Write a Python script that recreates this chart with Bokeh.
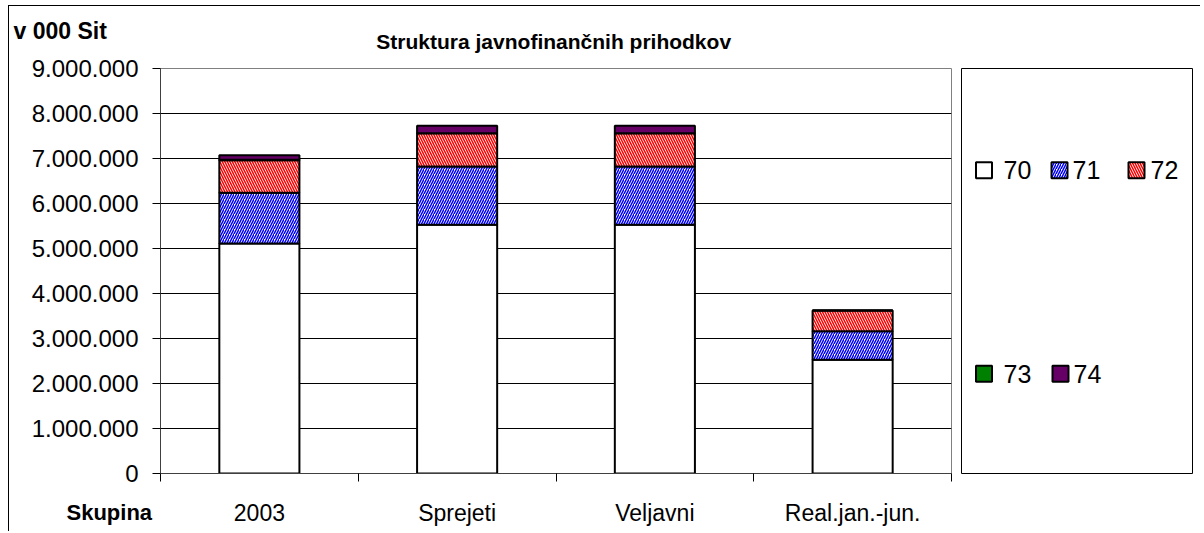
from bokeh.plotting import figure
from bokeh.models import Range1d, FixedTicker
from bokeh.layouts import row, column
from bokeh.embed import file_html
from bokeh.resources import INLINE
from bokeh.core.properties import value

# ---------------- data ----------------
categories = ["2003", "Sprejeti", "Veljavni", "Real.jan.-jun."]
series_names = ["70", "71", "72", "73", "74"]
s70 = [5110000, 5530000, 5530000, 2530000]
s71 = [1130000, 1290000, 1290000, 630000]
s72 = [720000, 740000, 740000, 460000]
s73 = [10000, 0, 0, 0]
s74 = [100000, 170000, 170000, 0]
y_ticks = [0, 1000000, 2000000, 3000000, 4000000, 5000000, 6000000, 7000000, 8000000, 9000000]
Y_MAX = 9000000
title_text = "Struktura javnofinančnih prihodkov"
unit_text = "v 000 Sit"
group_text = "Skupina"

FONT = "Liberation Sans"

def fmt(v):
    return f"{v:,}".replace(",", ".")

series = [s70, s71, s72, s73, s74]
fills = ["white", "white", "white", "#008000", "#660066"]
hatches = [" ", "/", "\\", " ", " "]
hatch_cols = [None, "#0000FF", "#FF0000", None, None]

xs = [i + 0.5 for i in range(len(categories))]
N = len(categories)
FRAME_W = 791      # main frame width in px
LEFT_PAD = 151     # px between canvas left and main frame left

# ---------------- top strip (title + unit) ----------------
pt = figure(width=1191, height=48, x_range=Range1d(0, 1191), y_range=Range1d(48, 0),
            output_backend="svg", toolbar_location=None,
            x_axis_location=None, y_axis_location=None,
            min_border_left=0, min_border_right=0, min_border_top=0, min_border_bottom=0)
pt.grid.visible = False
pt.outline_line_color = None
pt.background_fill_color = "white"
pt.border_fill_color = "white"
pt.text(x=[546.5], y=[35], text=[title_text], text_font=value(FONT), text_font_size="21px",
        text_font_style="bold", text_align="center", text_baseline="middle", text_color="black")
pt.text(x=[4], y=[24], text=[unit_text], text_font=value(FONT), text_font_size="23px",
        text_font_style="bold", text_align="left", text_baseline="middle", text_color="black")

# ---------------- main chart ----------------
p = figure(width=947, height=433, x_range=Range1d(0, N),
           y_range=Range1d(0, Y_MAX), output_backend="svg", toolbar_location=None,
           min_border_left=LEFT_PAD, min_border_right=5, min_border_top=14, min_border_bottom=14)
p.background_fill_color = "white"
p.border_fill_color = "white"
p.outline_line_color = "#808080"
p.outline_line_width = 1

bottom = [0] * N
for vals, fc, hp, hc in zip(series, fills, hatches, hatch_cols):
    top = [b + v for b, v in zip(bottom, vals)]
    kw = dict(x=xs, bottom=bottom, top=top, width=0.405, fill_color=fc,
              line_color="black", line_width=2)
    if hc is not None:
        kw.update(hatch_pattern=hp, hatch_color=hc, hatch_scale=5, hatch_weight=1.5)
    p.vbar(**kw)
    bottom = top

# y axis
p.yaxis.ticker = FixedTicker(ticks=y_ticks)
p.yaxis.major_label_overrides = {v: fmt(v) for v in y_ticks}
p.yaxis.major_label_text_font = FONT
p.yaxis.major_label_text_font_size = "24px"
p.yaxis.major_label_text_color = "black"
p.yaxis.major_tick_out = 8
p.yaxis.major_tick_in = 0
p.yaxis.minor_tick_line_color = None
p.yaxis.major_label_standoff = 14
p.yaxis.axis_line_color = "#404040"
p.yaxis.major_tick_line_color = "black"

# x axis: only the category-boundary ticks (labels are drawn in the strip below)
p.xaxis.ticker = FixedTicker(ticks=[], minor_ticks=list(range(N + 1)))
p.xaxis.major_tick_line_color = None
p.xaxis.minor_tick_out = 8
p.xaxis.minor_tick_in = 0
p.xaxis.minor_tick_line_color = "black"
p.xaxis.axis_line_color = "#404040"

p.xgrid.visible = False
p.ygrid.ticker = FixedTicker(ticks=y_ticks)
p.ygrid.grid_line_color = "black"
p.ygrid.grid_line_width = 1

# ---------------- legend panel ----------------
p2 = figure(width=244, height=433, x_range=Range1d(0, 231), y_range=Range1d(410, 0),
            output_backend="svg", toolbar_location=None,
            x_axis_location=None, y_axis_location=None,
            min_border_left=5, min_border_right=8, min_border_top=14, min_border_bottom=9)
p2.grid.visible = False
p2.outline_line_color = "black"
p2.outline_line_width = 1
p2.background_fill_color = "white"
p2.border_fill_color = "white"

leg_sx = [22.5, 98, 175, 22.5, 99]
leg_sy = [103, 103, 103, 309, 309]
leg_tx = [42, 111, 189, 42, 112]
for i in range(len(series_names)):
    kw = dict(x=[leg_sx[i]], y=[leg_sy[i]], width=16, height=16, fill_color=fills[i],
              line_color="black", line_width=2)
    if hatch_cols[i] is not None:
        kw.update(hatch_pattern=hatches[i], hatch_color=hatch_cols[i], hatch_scale=5, hatch_weight=1.5)
    p2.rect(**kw)
p2.text(x=leg_tx, y=leg_sy, text=series_names, text_font=value(FONT), text_font_size="25px",
        text_baseline="middle", text_align="left", text_color="black")

# ---------------- bottom strip: category labels on the main x scale, extended left ----------------
pb = figure(width=947, height=44, x_range=Range1d(-LEFT_PAD * N / FRAME_W, N), y_range=Range1d(44, 0),
            output_backend="svg", toolbar_location=None,
            x_axis_location=None, y_axis_location=None,
            min_border_left=0, min_border_right=5, min_border_top=0, min_border_bottom=0)
pb.grid.visible = False
pb.outline_line_color = None
pb.background_fill_color = "white"
pb.border_fill_color = "white"
pb.text(x=xs, y=[25] * N, text=categories, text_font=value(FONT), text_font_size="23px",
        text_align="center", text_baseline="middle", text_color="black")
pb.text(x=[-94 * N / FRAME_W], y=[25], text=[group_text], text_font=value(FONT), text_font_size="22px",
        text_font_style="bold", text_align="left", text_baseline="middle", text_color="black")

layout = column(pt, row(p, p2), pb,
                styles={"border-left": "1px solid black", "border-top": "1px solid black",
                        "margin-left": "8px", "margin-top": "5px"})

open("out.html", "w").write(file_html(layout, INLINE))
